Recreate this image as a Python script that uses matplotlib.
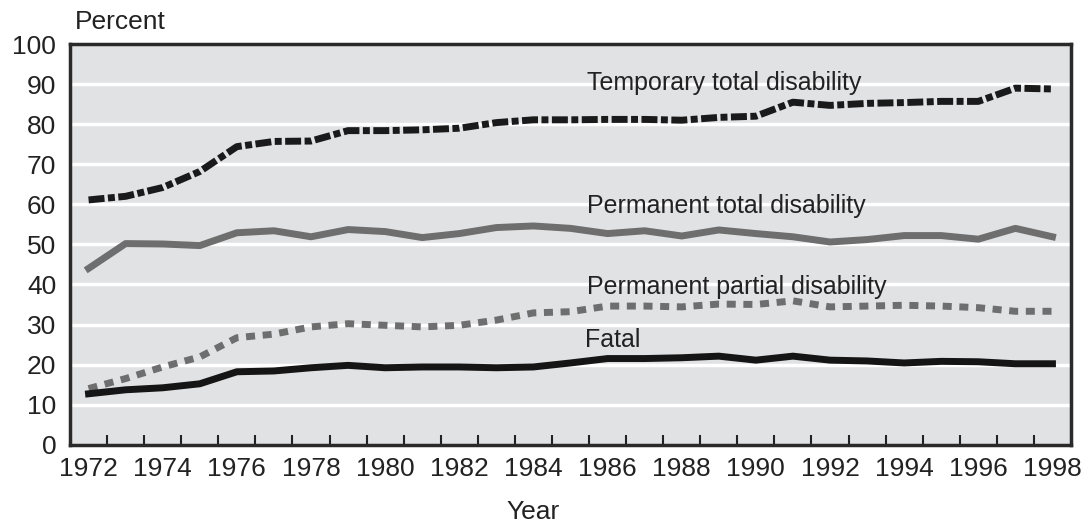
import matplotlib
matplotlib.use("Agg")
import matplotlib.pyplot as plt
from matplotlib.ticker import FixedLocator

plt.rcParams["font.family"] = ["Liberation Sans", "DejaVu Sans"]

years = list(range(1972, 1999))

temporary_total = [61.1, 62.0, 64.2, 68.2, 74.4, 75.7, 75.8, 78.4, 78.4, 78.6, 79.0, 80.4,
                   81.1, 81.1, 81.2, 81.2, 81.0, 81.7, 82.0, 85.5, 84.7, 85.2, 85.4, 85.7,
                   85.7, 89.0, 88.8]
permanent_total = [44.0, 50.2, 50.1, 49.7, 52.9, 53.4, 51.9, 53.7, 53.2, 51.7, 52.7, 54.2,
                   54.6, 54.0, 52.7, 53.4, 52.1, 53.6, 52.7, 51.9, 50.6, 51.2, 52.2, 52.2,
                   51.3, 54.0, 51.9]
permanent_partial = [14.0, 16.5, 19.4, 21.9, 26.7, 27.6, 29.4, 30.2, 29.8, 29.4, 29.8, 31.1,
                     32.9, 33.2, 34.6, 34.6, 34.4, 35.1, 35.0, 35.9, 34.4, 34.6, 34.8, 34.6,
                     34.2, 33.3, 33.3]
fatal = [12.7, 13.7, 14.2, 15.2, 18.2, 18.4, 19.2, 19.8, 19.2, 19.4, 19.4, 19.2,
         19.4, 20.4, 21.5, 21.5, 21.7, 22.1, 21.1, 22.1, 21.1, 20.9, 20.4, 20.8,
         20.7, 20.2, 20.2]

labels = ["Temporary total disability", "Permanent total disability",
          "Permanent partial disability", "Fatal"]

fig = plt.figure(figsize=(10.84, 5.25), dpi=100)
ax = fig.add_axes([0.0646, 0.153, 0.9234, 0.763])
ax.set_facecolor("#e1e2e4")

for y in range(10, 100, 10):
    ax.axhline(y, color="white", lw=2.5, zorder=1)

lw = 5
ax.plot(years, temporary_total, color="#1a1a1a", lw=lw, dashes=(2.3, 0.5, 1.0, 0.5), zorder=3)
ax.plot(years, permanent_total, color="#6e6e6e", lw=lw, zorder=3)
ax.plot(years, permanent_partial, color="#6e6e6e", lw=lw, dashes=(1.3, 1.1), zorder=3)
ax.plot(years, fatal, color="#151515", lw=lw, zorder=3)

ax.set_xlim(1971.5, 1998.5)
ax.set_ylim(0, 100)
ax.set_yticks(range(0, 101, 10))
ax.tick_params(axis="y", length=0, labelsize=19, pad=10, labelcolor="#222222")
ax.set_xticks(range(1972, 1999, 2))
ax.tick_params(axis="x", which="major", length=0, labelsize=19, pad=9, labelcolor="#222222")
ax.xaxis.set_minor_locator(FixedLocator([y + 0.5 for y in range(1972, 1998)]))
ax.tick_params(axis="x", which="minor", direction="in", length=7, width=1.5, color="#222222")

for s in ax.spines.values():
    s.set_color("#2a2a2a")
    s.set_linewidth(2.5)

ax.text(1985.45, 90.3, labels[0], fontsize=18, va="center", ha="left", color="#222222", zorder=4)
ax.text(1985.45, 59.6, labels[1], fontsize=18, va="center", ha="left", color="#222222", zorder=4)
ax.text(1985.45, 39.3, labels[2], fontsize=18, va="center", ha="left", color="#222222", zorder=4)
ax.text(1985.4, 26.1, labels[3], fontsize=18, va="center", ha="left", color="#222222", zorder=4)

fig.text(75 / 1084, 1 - 22 / 525, "Percent", fontsize=19, va="center", ha="left", color="#222222")
fig.text(533 / 1084, 1 - 512 / 525, "Year", fontsize=19, va="center", ha="center", color="#222222")

fig.savefig("out.png", dpi=100)
